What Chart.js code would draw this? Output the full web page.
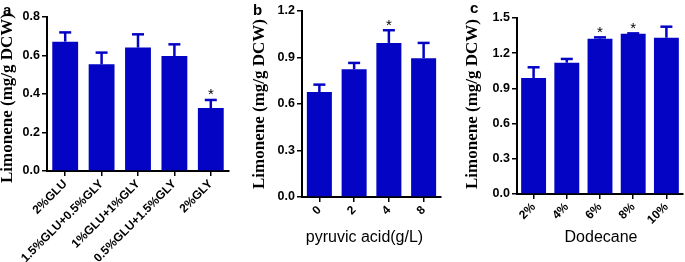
<!DOCTYPE html>
<html><head><meta charset="utf-8">
<script src="https://cdn.jsdelivr.net/npm/chart.js@4/dist/chart.umd.min.js"></script>
<style>
html,body{margin:0;padding:0;background:#fff;width:685px;height:262px;overflow:hidden;position:relative;}
canvas{position:absolute;top:0;}
.lbl{position:absolute;font:bold 15px "Liberation Sans",Arial,sans-serif;color:#000;line-height:15px;}
</style></head><body>
<canvas id="ca" width="232" height="262" style="left:0px"></canvas>
<canvas id="cb" width="223" height="262" style="left:232px"></canvas>
<canvas id="cc" width="230" height="262" style="left:455px"></canvas>
<div class="lbl" style="left:3px;top:2px">a</div>
<div class="lbl" style="left:253px;top:2px">b</div>
<div class="lbl" style="left:470px;top:0px">c</div>
<script>
// ---- data ----
const catsA = ['2%GLU','1.5%GLU+0.5%GLY','1%GLU+1%GLY','0.5%GLU+1.5%GLY','2%GLY'];
const valsA = [0.672, 0.554, 0.641, 0.597, 0.327];
const errA  = [0.048, 0.061, 0.069, 0.061, 0.042];
const sigA  = [false, false, false, false, true];
const yTicksA = [0, 0.2, 0.4, 0.6, 0.8];

const catsB = ['0','2','4','8'];
const valsB = [0.677, 0.824, 0.994, 0.895];
const errB  = [0.048, 0.041, 0.082, 0.099];
const sigB  = [false, false, true, false];
const yTicksB = [0, 0.3, 0.6, 0.9, 1.2];

const catsC = ['2%','4%','6%','8%','10%'];
const valsC = [0.989, 1.119, 1.324, 1.366, 1.332];
const errC  = [0.091, 0.032, 0.011, 0.003, 0.094];
const sigC  = [false, false, true, true, false];
const yTicksC = [0, 0.3, 0.6, 0.9, 1.2, 1.5];

const yTitle = 'Limonene (mg/g DCW)';
const xTitleB = 'pyruvic acid(g/L)';
const xTitleC = 'Dodecane';

// ---- style ----
const BLUE = '#0404C4';
const SANS = '"Liberation Sans", Arial, sans-serif';
const SERIF = '"Liberation Serif", "Times New Roman", serif';

const errPlugin = {
  id: 'errbars',
  afterDatasetsDraw(chart, args, opts) {
    const ctx = chart.ctx;
    const ys = chart.scales.y;
    const meta = chart.getDatasetMeta(0);
    const ds = chart.data.datasets[0];
    ctx.save();
    ctx.strokeStyle = BLUE;
    meta.data.forEach((el, i) => {
      const v = ds.data[i];
      const yTop = ys.getPixelForValue(v + opts.err[i]);
      ctx.lineWidth = 2.5;
      ctx.beginPath();
      ctx.moveTo(el.x, el.y);
      ctx.lineTo(el.x, yTop);
      ctx.stroke();
      ctx.beginPath();
      ctx.moveTo(el.x - 6, yTop);
      ctx.lineTo(el.x + 6, yTop);
      ctx.stroke();
      if (opts.sig[i]) {
        ctx.fillStyle = '#000';
        ctx.font = '15px ' + SANS;
        ctx.textAlign = 'center';
        ctx.textBaseline = 'alphabetic';
        ctx.fillText('*', el.x, yTop - 0.5);
      }
    });
    // axis titles
    const ca = chart.chartArea;
    ctx.fillStyle = '#000';
    ctx.save();
    ctx.font = 'bold 17px ' + SERIF;
    ctx.textAlign = 'center';
    ctx.textBaseline = 'middle';
    ctx.translate(opts.yTitleX, (ca.top + ca.bottom) / 2 + opts.yTitleDy);
    ctx.rotate(-Math.PI / 2);
    ctx.fillText(yTitle, 0, 0);
    ctx.restore();
    if (opts.xTitle) {
      ctx.font = '16px ' + SANS;
      ctx.textAlign = 'center';
      ctx.textBaseline = 'middle';
      ctx.fillText(opts.xTitle, (ca.left + ca.right) / 2 + opts.xTitleDx, opts.xTitleY);
    }
    ctx.restore();
  }
};

function makeChart(id, cats, vals, err, sig, yTicks, cfg) {
  const ymax = yTicks[yTicks.length - 1];
  return new Chart(document.getElementById(id), {
    type: 'bar',
    data: { labels: cats, datasets: [{ data: vals, backgroundColor: BLUE, borderWidth: 0,
      categoryPercentage: 1.0, barPercentage: cfg.barPct }] },
    plugins: [errPlugin],
    options: {
      responsive: false, animation: false, devicePixelRatio: 1,
      layout: { padding: cfg.pad },
      plugins: { legend: { display: false }, tooltip: { enabled: false },
        errbars: { err: err, sig: sig, yTitleX: cfg.yTitleX, yTitleDy: cfg.yTitleDy,
          xTitle: cfg.xTitle, xTitleDx: cfg.xTitleDx, xTitleY: cfg.xTitleY } },
      scales: {
        x: {
          offset: true,
          grid: { drawOnChartArea: false, drawTicks: true, tickLength: 5, color: '#000', lineWidth: 1.5, offset: false },
          border: { display: true, color: '#000', width: 2 },
          ticks: { color: '#000', font: { family: SANS, size: 12, weight: 'bold' },
            minRotation: 45, maxRotation: 45, autoSkip: false, padding: 1 },
          afterFit(s) { s.height = cfg.xH; }
        },
        y: {
          min: 0, max: ymax,
          afterBuildTicks(s) { s.ticks = yTicks.map(v => ({ value: v })); },
          grid: { drawOnChartArea: false, drawTicks: true, tickLength: 5, color: '#000', lineWidth: 1.5 },
          border: { display: true, color: '#000', width: 2 },
          ticks: { color: '#000', font: { family: SANS, size: 12.5, weight: 'bold' }, padding: 2,
            callback: v => Number(v).toFixed(1) },
          afterFit(s) { s.width = cfg.yW; }
        }
      }
    }
  });
}

makeChart('ca', catsA, valsA, errA, sigA, yTicksA,
  { barPct: 0.71, pad: { left: 0, right: 3, top: 17, bottom: 0 }, xH: 91, yW: 47,
    yTitleX: 8, yTitleDy: 4 });
makeChart('cb', catsB, valsB, errB, sigB, yTicksB,
  { barPct: 0.72, pad: { left: 0, right: 14, top: 11, bottom: 0 }, xH: 65, yW: 70,
    yTitleX: 28, yTitleDy: 0, xTitle: xTitleB, xTitleDx: -7, xTitleY: 238 });
makeChart('cc', catsC, valsC, errC, sigC, yTicksC,
  { barPct: 0.75, pad: { left: 0, right: 2, top: 18, bottom: 0 }, xH: 68, yW: 62,
    yTitleX: 18, yTitleDy: -2, xTitle: xTitleC, xTitleDx: 1, xTitleY: 237.5 });
</script>
</body></html>
